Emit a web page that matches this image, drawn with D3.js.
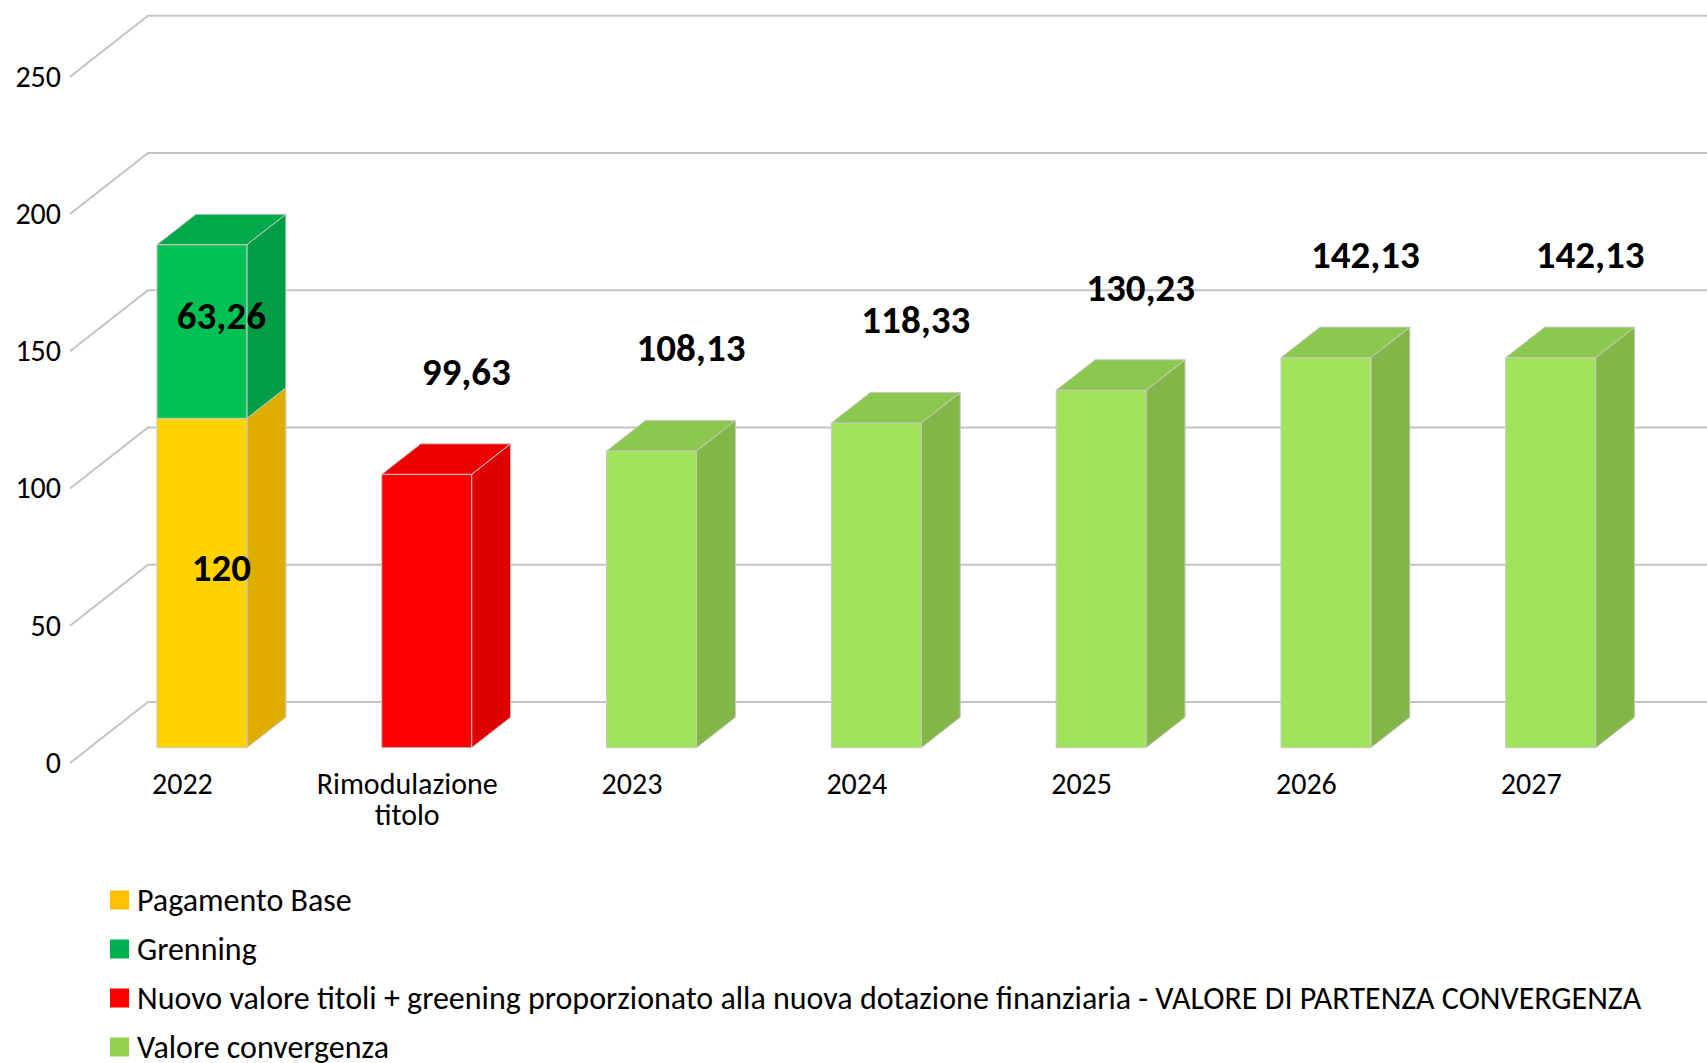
<!DOCTYPE html>
<html>
<head>
<meta charset="utf-8">
<title>Convergenza</title>
<script src="https://d3js.org/d3.v7.min.js"></script>
<style>
  body { margin: 0; background: #fff; }
  text { font-family: Carlito, "Open Sans", sans-serif; fill: #000; }
  .grid { fill: none; stroke: #c3c3c3; stroke-width: 2px; }
</style>
</head>
<body>
<div id="chart"></div>
<script>
// categories and series
var categories = ["2022", "Rimodulazione titolo", "2023", "2024", "2025", "2026", "2027"];
var seriesNames = ["Pagamento Base", "Grenning",
  "Nuovo valore titoli + greening proporzionato alla nuova dotazione finanziaria - VALORE DI PARTENZA CONVERGENZA",
  "Valore convergenza"];
var pagamentoBase     = [120,   0,     0,      0,      0,      0,      0];
var grenning          = [63.26, 0,     0,      0,      0,      0,      0];
var valorePartenza    = [0,     99.63, 0,      0,      0,      0,      0];
var valoreConvergenza = [0,     0,     108.13, 118.33, 130.23, 142.13, 142.13];
var yTicks = [0, 50, 100, 150, 200, 250];

// face colours per series: front, side, top, legend swatch
var palette = [
  { front: "#ffd302", side: "#dfad00", top: "#e9b800", swatch: "#ffc000" },
  { front: "#00c153", side: "#009e44", top: "#00a94a", swatch: "#00b050" },
  { front: "#ff0000", side: "#df0000", top: "#ef0000", swatch: "#ff0000" },
  { front: "#a0e45a", side: "#82b748", top: "#8cc84f", swatch: "#92d050" }
];

var W = 1707, H = 1063;
var depthX = 78, depthY = 61;      // full depth of the floor
var zFront = 0.25, zBack = 0.75;   // bars sit in the middle of the depth

var svg = d3.select("#chart").append("svg")
  .attr("width", W).attr("height", H);

var x = d3.scaleBand().domain(categories)
  .range([70, 1643.6]).paddingInner(0.6).paddingOuter(0.3);
var y = d3.scaleLinear().domain([0, 250]).range([763, 76.75]);

function px(v, z) { return v + z * depthX; }
function py(v, z) { return v - z * depthY; }

var fmt = d3.formatLocale({ decimal: ",", thousands: ".", grouping: [3], currency: ["", "€"] })
  .format(".2~f");

// gridlines: side wall diagonal + back wall line
var grid = svg.append("g");
yTicks.forEach(function(t) {
  grid.append("path").attr("class", "grid")
    .attr("d", d3.line()([
      [px(70, 0), py(y(t), 0)],
      [px(70, 1), py(y(t), 1)],
      [px(x.range()[1], 1), py(y(t), 1)]
    ]));
  grid.append("text")
    .attr("x", 61).attr("y", y(t))
    .attr("dy", "0.33em")
    .attr("text-anchor", "end")
    .style("font-size", "30px")
    .text(t);
});

// stacked data
var table = categories.map(function(c, i) {
  return { cat: c, s0: pagamentoBase[i], s1: grenning[i], s2: valorePartenza[i], s3: valoreConvergenza[i] };
});
var stack = d3.stack().keys(["s0", "s1", "s2", "s3"])(table);

var bars = svg.append("g");
categories.forEach(function(c, i) {
  var x0 = x(c), bw = x.bandwidth();
  var segs = [];
  stack.forEach(function(layer, k) {
    var d = layer[i];
    if (d[1] - d[0] > 0) segs.push({ k: k, lo: d[0], hi: d[1] });
  });
  segs.forEach(function(s, j) {
    var col = palette[s.k];
    var yt = y(s.hi), yb = y(s.lo);
    var g = bars.append("g").attr("stroke", "#c9c9c9").attr("stroke-width", 1)
      .attr("stroke-linejoin", "round");
    // side face
    g.append("path").attr("fill", col.side)
      .attr("d", d3.line()([
        [px(x0 + bw, zFront), py(yt, zFront)],
        [px(x0 + bw, zBack), py(yt, zBack)],
        [px(x0 + bw, zBack), py(yb, zBack)],
        [px(x0 + bw, zFront), py(yb, zFront)]
      ]) + "Z");
    // front face
    g.append("rect").attr("fill", col.front)
      .attr("x", px(x0, zFront)).attr("y", py(yt, zFront))
      .attr("width", bw).attr("height", yb - yt);
    // top face only on the last segment
    if (j === segs.length - 1) {
      g.append("path").attr("fill", col.top)
        .attr("d", d3.line()([
          [px(x0, zFront), py(yt, zFront)],
          [px(x0 + bw, zFront), py(yt, zFront)],
          [px(x0 + bw, zBack), py(yt, zBack)],
          [px(x0, zBack), py(yt, zBack)]
        ]) + "Z");
    }
  });
  // data labels
  var cx = px(x0 + bw / 2, 0.5);
  if (segs.length > 1) {
    segs.forEach(function(s) {
      bars.append("text")
        .attr("x", cx).attr("y", py(y((s.lo + s.hi) / 2), 0.5))
        .attr("dy", "0.33em").attr("text-anchor", "middle")
        .style("font-size", "39px").style("font-weight", "bold")
        .text(fmt(s.hi - s.lo));
    });
  } else if (segs.length === 1) {
    var s = segs[0];
    bars.append("text")
      .attr("x", cx + 20).attr("y", py(y(s.hi), zBack) - 72)
      .attr("dy", "0.33em").attr("text-anchor", "middle")
      .style("font-size", "39px").style("font-weight", "bold")
      .text(fmt(s.hi - s.lo));
  }
});

// category labels (front plane)
var cats = svg.append("g");
categories.forEach(function(c) {
  var words = c.split(" ");
  var t = cats.append("text")
    .attr("x", x(c) + x.bandwidth() / 2)
    .attr("y", 794)
    .attr("text-anchor", "middle")
    .style("font-size", "30px");
  words.forEach(function(w, j) {
    t.append("tspan").attr("x", x(c) + x.bandwidth() / 2)
      .attr("dy", j === 0 ? 0 : 31).text(w);
  });
});

// legend
var legend = svg.append("g");
seriesNames.forEach(function(n, i) {
  var ly = 900 + i * 49;
  legend.append("rect")
    .attr("x", 110).attr("y", ly - 9.5)
    .attr("width", 19).attr("height", 19)
    .attr("fill", palette[i].swatch);
  legend.append("text")
    .attr("x", 137).attr("y", ly)
    .attr("dy", "0.33em")
    .style("font-size", "32px")
    .text(n);
});
</script>
</body>
</html>
